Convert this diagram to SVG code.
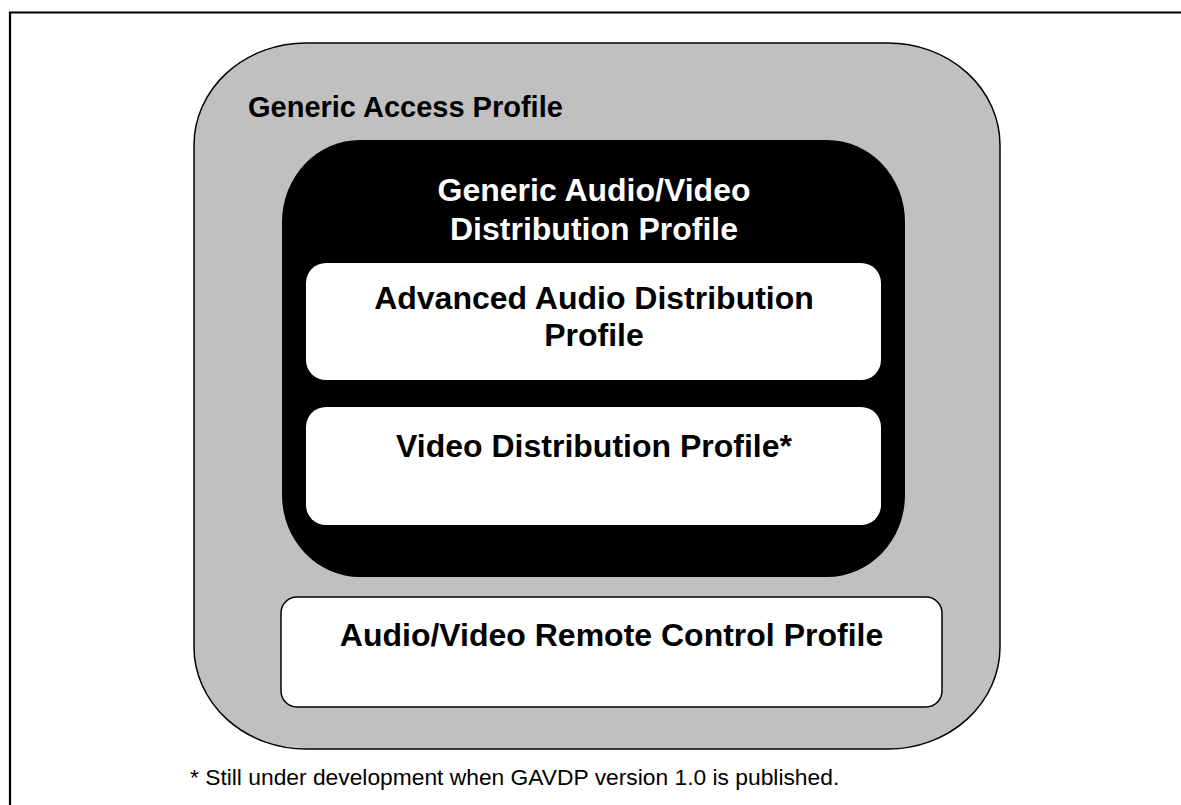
<svg xmlns="http://www.w3.org/2000/svg" width="1181" height="805" viewBox="0 0 1181 805">
<style>
.t{font-family:"Liberation Sans",Arial,sans-serif;font-weight:bold;font-size:32px;text-anchor:middle}
.w{fill:#ffffff}
.k{fill:#000000}
.box{fill:#ffffff;stroke:#000;stroke-width:1.5}
</style>
<rect x="0" y="0" width="1181" height="805" fill="#ffffff"/>
<g id="frame">
<path d="M10,810 L10,12.5 L1190,12.5" fill="none" stroke="#000" stroke-width="2.2"/>
</g>
<g id="gap">
<rect x="194" y="43" width="806" height="706" rx="112" ry="102" fill="#c0c0c0" stroke="#000" stroke-width="1.5"/>
<text x="248" y="117" class="k" style="font-family:'Liberation Sans',Arial,sans-serif;font-weight:bold;font-size:29px">Generic Access Profile</text>
</g>
<g id="gavdp">
<rect x="282" y="140" width="623" height="437" rx="78" ry="82" fill="#000"/>
<text x="594" y="201" class="t w">Generic Audio/Video</text>
<text x="594" y="240" class="t w">Distribution Profile</text>
</g>
<g id="a2dp">
<rect x="306" y="263" width="575" height="117" rx="20" ry="20" fill="#fff"/>
<text x="594" y="309" class="t k">Advanced Audio Distribution</text>
<text x="594" y="346" class="t k">Profile</text>
</g>
<g id="vdp">
<rect x="306" y="407" width="575" height="118" rx="20" ry="20" fill="#fff"/>
<text x="594" y="457" class="t k">Video Distribution Profile*</text>
</g>
<g id="avrcp">
<rect x="281" y="597" width="661" height="110" rx="16" ry="16" class="box"/>
<text x="611.5" y="646" class="t k">Audio/Video Remote Control Profile</text>
</g>
<g id="connectors"></g>
<text x="190" y="785" style="font-family:'Liberation Sans',Arial,sans-serif;font-size:22.8px" fill="#000">* Still under development when GAVDP version 1.0 is published.</text>
</svg>
